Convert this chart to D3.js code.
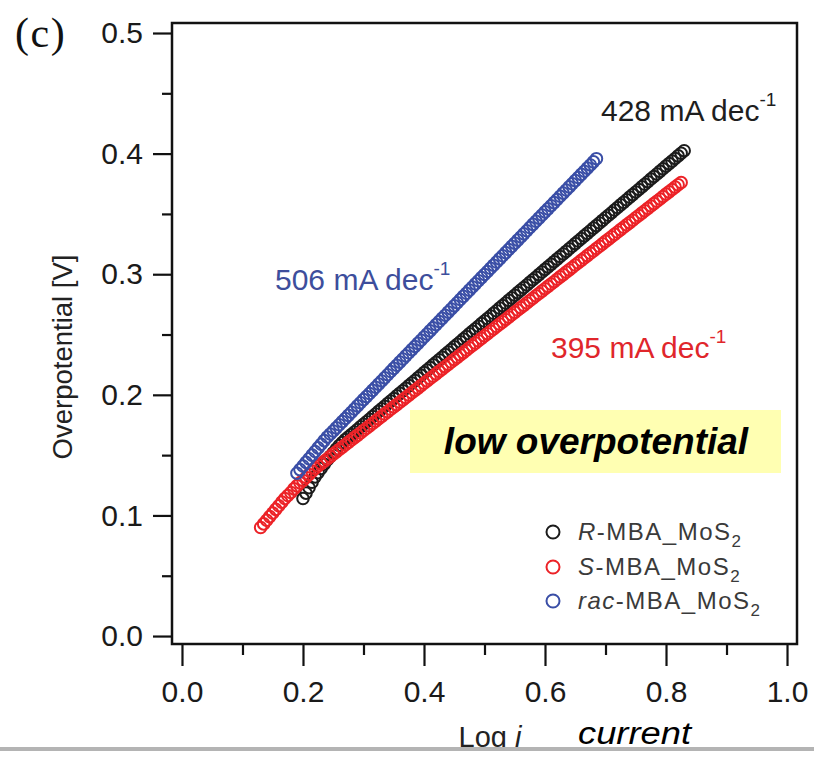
<!DOCTYPE html>
<html><head><meta charset="utf-8">
<script src="https://cdn.jsdelivr.net/npm/d3@7/dist/d3.min.js"></script>
<style>body{margin:0;background:#fff}svg{display:block}</style>
</head><body><svg id="c" width="814" height="757"></svg>
<script>
// ---- data ----
const xTicks = [0.0, 0.2, 0.4, 0.6, 0.8, 1.0];
const xMinor = [0.1, 0.3, 0.5, 0.7, 0.9];
const yTicks = [0.0, 0.1, 0.2, 0.3, 0.4, 0.5];
const yMinor = [0.05, 0.15, 0.25, 0.35, 0.45];

// R-MBA_MoS2 (black)
const rX = [0.200,0.205,0.210,0.215,0.220,0.225,0.230,0.235,0.240,0.245,0.250,0.255,0.260,0.265,0.270,0.275,0.280,0.285,0.290,0.295,0.300,0.305,0.310,0.315,0.320,0.325,0.330,0.335,0.340,0.345,0.350,0.355,0.360,0.365,0.370,0.375,0.380,0.385,0.390,0.395,0.400,0.405,0.410,0.415,0.420,0.425,0.430,0.435,0.440,0.445,0.450,0.455,0.460,0.465,0.470,0.475,0.480,0.485,0.490,0.495,0.500,0.505,0.510,0.515,0.520,0.525,0.530,0.535,0.540,0.545,0.550,0.555,0.560,0.565,0.570,0.575,0.580,0.585,0.590,0.595,0.600,0.605,0.610,0.615,0.620,0.625,0.630,0.635,0.640,0.645,0.650,0.655,0.660,0.665,0.670,0.675,0.680,0.685,0.690,0.695,0.700,0.705,0.710,0.715,0.720,0.725,0.730,0.735,0.740,0.745,0.750,0.755,0.760,0.765,0.770,0.775,0.780,0.785,0.790,0.795,0.800,0.805,0.810,0.815,0.820,0.825,0.830];
const rY = [0.1140,0.1185,0.1230,0.1275,0.1320,0.1355,0.1390,0.1425,0.1460,0.1490,0.1520,0.1550,0.1580,0.1605,0.1630,0.1650,0.1670,0.1691,0.1713,0.1734,0.1756,0.1777,0.1798,0.1820,0.1841,0.1863,0.1884,0.1905,0.1927,0.1948,0.1970,0.1991,0.2012,0.2034,0.2055,0.2077,0.2098,0.2119,0.2141,0.2162,0.2184,0.2205,0.2226,0.2248,0.2269,0.2291,0.2312,0.2333,0.2355,0.2376,0.2398,0.2419,0.2440,0.2462,0.2483,0.2505,0.2526,0.2547,0.2569,0.2590,0.2612,0.2633,0.2654,0.2676,0.2697,0.2719,0.2740,0.2761,0.2783,0.2804,0.2826,0.2847,0.2868,0.2890,0.2911,0.2933,0.2954,0.2975,0.2997,0.3018,0.3040,0.3061,0.3082,0.3104,0.3125,0.3147,0.3168,0.3189,0.3211,0.3232,0.3254,0.3275,0.3296,0.3318,0.3339,0.3361,0.3382,0.3403,0.3425,0.3446,0.3468,0.3489,0.3510,0.3532,0.3553,0.3575,0.3596,0.3617,0.3639,0.3660,0.3682,0.3703,0.3724,0.3746,0.3767,0.3789,0.3810,0.3831,0.3853,0.3874,0.3896,0.3917,0.3938,0.3960,0.3981,0.4003,0.4024];

// S-MBA_MoS2 (red)
const sX = [0.130,0.135,0.140,0.145,0.150,0.155,0.160,0.165,0.170,0.175,0.180,0.185,0.190,0.195,0.200,0.205,0.210,0.215,0.220,0.225,0.230,0.235,0.240,0.245,0.250,0.255,0.260,0.265,0.270,0.275,0.280,0.285,0.290,0.295,0.300,0.305,0.310,0.315,0.320,0.325,0.330,0.335,0.340,0.345,0.350,0.355,0.360,0.365,0.370,0.375,0.380,0.385,0.390,0.395,0.400,0.405,0.410,0.415,0.420,0.425,0.430,0.435,0.440,0.445,0.450,0.455,0.460,0.465,0.470,0.475,0.480,0.485,0.490,0.495,0.500,0.505,0.510,0.515,0.520,0.525,0.530,0.535,0.540,0.545,0.550,0.555,0.560,0.565,0.570,0.575,0.580,0.585,0.590,0.595,0.600,0.605,0.610,0.615,0.620,0.625,0.630,0.635,0.640,0.645,0.650,0.655,0.660,0.665,0.670,0.675,0.680,0.685,0.690,0.695,0.700,0.705,0.710,0.715,0.720,0.725,0.730,0.735,0.740,0.745,0.750,0.755,0.760,0.765,0.770,0.775,0.780,0.785,0.790,0.795,0.800,0.805,0.810,0.815,0.820,0.825];
const sY = [0.0900,0.0930,0.0960,0.0990,0.1020,0.1050,0.1080,0.1110,0.1140,0.1165,0.1190,0.1220,0.1245,0.1270,0.1290,0.1315,0.1340,0.1365,0.1390,0.1410,0.1429,0.1449,0.1468,0.1488,0.1508,0.1527,0.1547,0.1566,0.1586,0.1606,0.1625,0.1645,0.1664,0.1684,0.1704,0.1723,0.1743,0.1762,0.1782,0.1802,0.1821,0.1841,0.1860,0.1880,0.1900,0.1919,0.1939,0.1958,0.1978,0.1998,0.2017,0.2037,0.2056,0.2076,0.2096,0.2115,0.2135,0.2154,0.2174,0.2194,0.2213,0.2233,0.2252,0.2272,0.2292,0.2311,0.2331,0.2350,0.2370,0.2390,0.2409,0.2429,0.2448,0.2468,0.2488,0.2507,0.2527,0.2546,0.2566,0.2586,0.2605,0.2625,0.2644,0.2664,0.2684,0.2703,0.2723,0.2742,0.2762,0.2782,0.2801,0.2821,0.2840,0.2860,0.2880,0.2899,0.2919,0.2938,0.2958,0.2978,0.2997,0.3017,0.3036,0.3056,0.3076,0.3095,0.3115,0.3134,0.3154,0.3174,0.3193,0.3213,0.3232,0.3252,0.3272,0.3291,0.3311,0.3330,0.3350,0.3370,0.3389,0.3409,0.3428,0.3448,0.3468,0.3487,0.3507,0.3526,0.3546,0.3566,0.3585,0.3605,0.3624,0.3644,0.3664,0.3683,0.3703,0.3722,0.3742,0.3760];

// rac-MBA_MoS2 (blue)
const racX = [0.190,0.195,0.200,0.205,0.210,0.215,0.220,0.225,0.230,0.235,0.240,0.245,0.250,0.255,0.260,0.265,0.270,0.275,0.280,0.285,0.290,0.295,0.300,0.305,0.310,0.315,0.320,0.325,0.330,0.335,0.340,0.345,0.350,0.355,0.360,0.365,0.370,0.375,0.380,0.385,0.390,0.395,0.400,0.405,0.410,0.415,0.420,0.425,0.430,0.435,0.440,0.445,0.450,0.455,0.460,0.465,0.470,0.475,0.480,0.485,0.490,0.495,0.500,0.505,0.510,0.515,0.520,0.525,0.530,0.535,0.540,0.545,0.550,0.555,0.560,0.565,0.570,0.575,0.580,0.585,0.590,0.595,0.600,0.605,0.610,0.615,0.620,0.625,0.630,0.635,0.640,0.645,0.650,0.655,0.660,0.665,0.670,0.675,0.680,0.685];
const racY = [0.1350,0.1380,0.1410,0.1440,0.1470,0.1500,0.1530,0.1560,0.1590,0.1620,0.1650,0.1675,0.1700,0.1726,0.1752,0.1778,0.1804,0.1830,0.1856,0.1882,0.1908,0.1934,0.1960,0.1985,0.2011,0.2037,0.2063,0.2089,0.2115,0.2141,0.2167,0.2193,0.2219,0.2245,0.2271,0.2297,0.2323,0.2349,0.2375,0.2401,0.2427,0.2453,0.2479,0.2504,0.2530,0.2556,0.2582,0.2608,0.2634,0.2660,0.2686,0.2712,0.2738,0.2764,0.2790,0.2816,0.2842,0.2868,0.2894,0.2920,0.2946,0.2972,0.2998,0.3023,0.3049,0.3075,0.3101,0.3127,0.3153,0.3179,0.3205,0.3231,0.3257,0.3283,0.3309,0.3335,0.3361,0.3387,0.3413,0.3439,0.3465,0.3491,0.3517,0.3542,0.3568,0.3594,0.3620,0.3646,0.3672,0.3698,0.3724,0.3750,0.3776,0.3802,0.3828,0.3854,0.3880,0.3906,0.3932,0.3958];

const seriesNames = ["R", "S", "rac"];
const seriesColors = ["#1c1c1c", "#ec2227", "#3a4ea6"];
const slopeLabels = ["428 mA dec", "395 mA dec", "506 mA dec"];

// ---- drawing ----
const svg = d3.select("#c");
const F = "'Liberation Sans', Arial, sans-serif";
const L = 172, R = 797, T = 23, B = 644;
const x = d3.scaleLinear().domain([-0.0165, 1.0165]).range([L, R]);
const y = d3.scaleLinear().domain([-0.0066, 0.5083]).range([B, T]);

// y axis
const gy = svg.append("g").attr("transform", `translate(${L},0)`);
gy.call(d3.axisLeft(y).tickValues(yTicks).tickSize(19).tickPadding(10).tickFormat(d3.format(".1f")));
gy.append("g").call(d3.axisLeft(y).tickValues(yMinor).tickSize(10).tickFormat(""));
// x axis
const gx = svg.append("g").attr("transform", `translate(0,${B})`);
gx.call(d3.axisBottom(x).tickValues(xTicks).tickSize(22).tickPadding(15).tickFormat(d3.format(".1f")));
gx.append("g").call(d3.axisBottom(x).tickValues(xMinor).tickSize(11).tickFormat(""));
svg.selectAll(".domain").remove();
svg.selectAll(".tick line").attr("stroke", "#111").attr("stroke-width", 2.2);
svg.selectAll(".tick text").attr("font-family", F).attr("font-size", 30).attr("fill", "#1a1a1a");

// frame
svg.append("rect").attr("x", L).attr("y", T).attr("width", R - L).attr("height", B - T)
  .attr("fill", "none").attr("stroke", "#111").attr("stroke-width", 2.5);

// series
const data = [[rX, rY], [sX, sY], [racX, racY]];
data.forEach(([xs, ys], i) => {
  svg.append("g").selectAll("circle").data(xs.map((v, k) => [v, ys[k]])).join("circle")
    .attr("cx", d => x(d[0])).attr("cy", d => y(d[1])).attr("r", 5.8)
    .attr("fill", "none").attr("stroke", seriesColors[i]).attr("stroke-width", 2);
});

// slope annotations
function slope(txt, px, py, col) {
  const t = svg.append("text").attr("x", px).attr("y", py).attr("font-family", F)
    .attr("font-size", 30).attr("fill", col);
  t.append("tspan").text(txt);
  t.append("tspan").attr("dy", -15).attr("font-size", 19).text("-1");
}
slope(slopeLabels[0], 601, 121, "#1e1e1e");
slope(slopeLabels[1], 551, 358, "#e0262b");
slope(slopeLabels[2], 275, 290, "#3d4e9c");

// yellow box
svg.append("rect").attr("x", 410).attr("y", 410).attr("width", 371).attr("height", 63).attr("fill", "#ffffb2");
svg.append("text").attr("x", 596).attr("y", 454).attr("text-anchor", "middle").attr("font-family", F)
  .attr("font-size", 37).attr("font-weight", "bold").attr("font-style", "italic").attr("fill", "#000")
  .text("low overpotential");

// legend
const legY = [532, 567, 601];
seriesNames.forEach((n, i) => {
  svg.append("circle").attr("cx", 553).attr("cy", legY[i]).attr("r", 6.5)
    .attr("fill", "none").attr("stroke", seriesColors[i]).attr("stroke-width", 2);
  const t = svg.append("text").attr("x", 578).attr("y", legY[i] + 8).attr("font-family", F)
    .attr("font-size", 24).attr("letter-spacing", 1.5).attr("fill", "#3a3a3a");
  t.append("tspan").attr("font-style", "italic").text(n);
  t.append("tspan").text("-MBA_MoS");
  t.append("tspan").attr("dy", 7).attr("font-size", 17).text("2");
});

// axis titles
svg.append("text").attr("transform", "translate(72,357) rotate(-90)").attr("text-anchor", "middle")
  .attr("font-family", F).attr("font-size", 27.5).attr("fill", "#222").text("Overpotential [V]");
const xl = svg.append("text").attr("x", 490).attr("y", 747).attr("text-anchor", "middle")
  .attr("font-family", F).attr("font-size", 29).attr("fill", "#222");
xl.append("tspan").text("Log ");
xl.append("tspan").attr("font-style", "italic").text("j");
svg.append("text").attr("x", 578).attr("y", 744).attr("font-family", "'Liberation Sans Narrow', 'Liberation Sans', Arial, sans-serif")
  .attr("font-size", 31).attr("font-style", "italic").attr("fill", "#000")
  .attr("textLength", 113).attr("lengthAdjust", "spacingAndGlyphs").text("current");

// panel label
svg.append("text").attr("x", 15).attr("y", 47).attr("font-family", "'Liberation Serif', 'Times New Roman', serif")
  .attr("font-size", 42).attr("letter-spacing", 1.5).attr("fill", "#111").text("(c)");

// bottom crop bar
svg.append("rect").attr("x", 0).attr("y", 751).attr("width", 814).attr("height", 6).attr("fill", "#fff");
svg.append("rect").attr("x", 0).attr("y", 747).attr("width", 814).attr("height", 4).attr("fill", "#b4b4b4");
</script></body></html>
